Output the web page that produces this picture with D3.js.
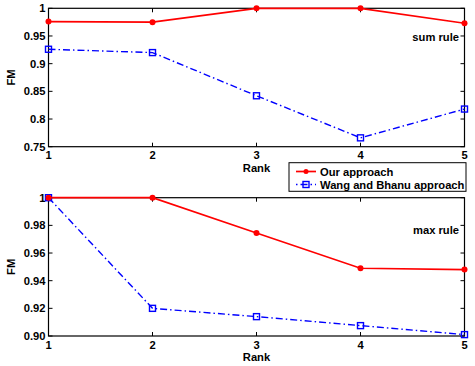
<!DOCTYPE html>
<html><head><meta charset="utf-8">
<script src="https://cdn.jsdelivr.net/npm/d3@7"></script>
<style>body{margin:0;background:#fff}svg{display:block}text{font-family:"Liberation Sans",Arial,sans-serif;font-weight:bold;font-size:11.2px;fill:#000}</style>
</head><body>
<script>
const ranks = [1,2,3,4,5];
const sumOur = [0.976,0.975,1.0,1.0,0.973];
const sumWang = [0.926,0.920,0.842,0.766,0.818];
const maxOur = [1.0,1.0,0.9745,0.949,0.948];
const maxWang = [1.0,0.920,0.914,0.9075,0.901];
const sumTicks = [0.75,0.8,0.85,0.9,0.95,1];
const maxTicks = [0.9,0.92,0.94,0.96,0.98,1];
const seriesNames = ["Our approach","Wang and Bhanu approach"];

const W=475,H=366;
const svg=d3.select("body").append("svg").attr("width",W).attr("height",H);
const x=d3.scaleLinear().domain([1,5]).range([48.5,464.5]);

function panel(top,bottom,domain,ticks,our,wang,label,labelY,fmt){
  const y=d3.scaleLinear().domain(domain).range([bottom,top]);
  const g=svg.append("g");
  const tl=4;
  ticks.forEach(t=>{
    const yy=y(t);
    g.append("line").attr("x1",x.range()[0]).attr("x2",x.range()[0]+tl).attr("y1",yy).attr("y2",yy).attr("stroke","#000");
    g.append("line").attr("x1",x.range()[1]).attr("x2",x.range()[1]-tl).attr("y1",yy).attr("y2",yy).attr("stroke","#000");
    g.append("text").attr("x",x.range()[0]-3).attr("y",yy+4).attr("text-anchor","end").text(fmt(t));
  });
  ranks.forEach(r=>{
    const xx=x(r);
    g.append("line").attr("x1",xx).attr("x2",xx).attr("y1",bottom).attr("y2",bottom-tl).attr("stroke","#000");
    g.append("line").attr("x1",xx).attr("x2",xx).attr("y1",top).attr("y2",top+tl).attr("stroke","#000");
    g.append("text").attr("x",xx).attr("y",bottom+12.5).attr("text-anchor","middle").text(r);
  });
  g.append("rect").attr("x",x.range()[0]).attr("y",top).attr("width",x.range()[1]-x.range()[0]).attr("height",bottom-top).attr("fill","none").attr("stroke","#000").attr("stroke-width",1.2);
  g.append("text").attr("x",(x.range()[0]+x.range()[1])/2).attr("y",bottom+25).attr("text-anchor","middle").text("Rank");
  g.append("text").attr("transform",`translate(15,${(top+bottom)/2}) rotate(-90)`).attr("text-anchor","middle").text("FM");
  g.append("text").attr("x",459).attr("y",labelY).attr("text-anchor","end").text(label);
  const line=d3.line().x((d,i)=>x(ranks[i])).y(d=>y(d));
  g.append("path").datum(wang).attr("d",line).attr("fill","none").attr("stroke","#0000ff").attr("stroke-width",1.4).attr("stroke-dasharray","7,3,1.5,3");
  g.selectAll(null).data(wang).enter().append("rect").attr("x",(d,i)=>x(ranks[i])-3).attr("y",d=>y(d)-3).attr("width",6).attr("height",6).attr("fill","none").attr("stroke","#0000ff").attr("stroke-width",1.4);
  g.append("path").datum(our).attr("d",line).attr("fill","none").attr("stroke","#ff0000").attr("stroke-width",1.7);
  g.selectAll(null).data(our).enter().append("circle").attr("cx",(d,i)=>x(ranks[i])).attr("cy",d=>y(d)).attr("r",3).attr("fill","#ff0000");
}
panel(8.3,146.7,[0.75,1],sumTicks,sumOur,sumWang,"sum rule",41,d3.format("~g"));
panel(197.7,336,[0.9,1],maxTicks,maxOur,maxWang,"max rule",234,d=>d===1?"1":d3.format(".2f")(d));

const lg=svg.append("g");
lg.append("rect").attr("x",289).attr("y",162.7).attr("width",177).attr("height",28.6).attr("fill","#fff").attr("stroke","#000").attr("stroke-width",1);
lg.append("line").attr("x1",296).attr("x2",316).attr("y1",171.5).attr("y2",171.5).attr("stroke","#ff0000").attr("stroke-width",1.7);
lg.append("circle").attr("cx",306).attr("cy",171.5).attr("r",2.5).attr("fill","#ff0000");
lg.append("line").attr("x1",296).attr("x2",316).attr("y1",184.5).attr("y2",184.5).attr("stroke","#0000ff").attr("stroke-width",1.4).attr("stroke-dasharray","1.5,3,7,3");
lg.append("rect").attr("x",303).attr("y",181.5).attr("width",6).attr("height",6).attr("fill","none").attr("stroke","#0000ff").attr("stroke-width",1.4);
lg.append("text").attr("x",320).attr("y",175.5).text(seriesNames[0]);
lg.append("text").attr("x",320).attr("y",188.5).text(seriesNames[1]);
</script>
</body></html>
